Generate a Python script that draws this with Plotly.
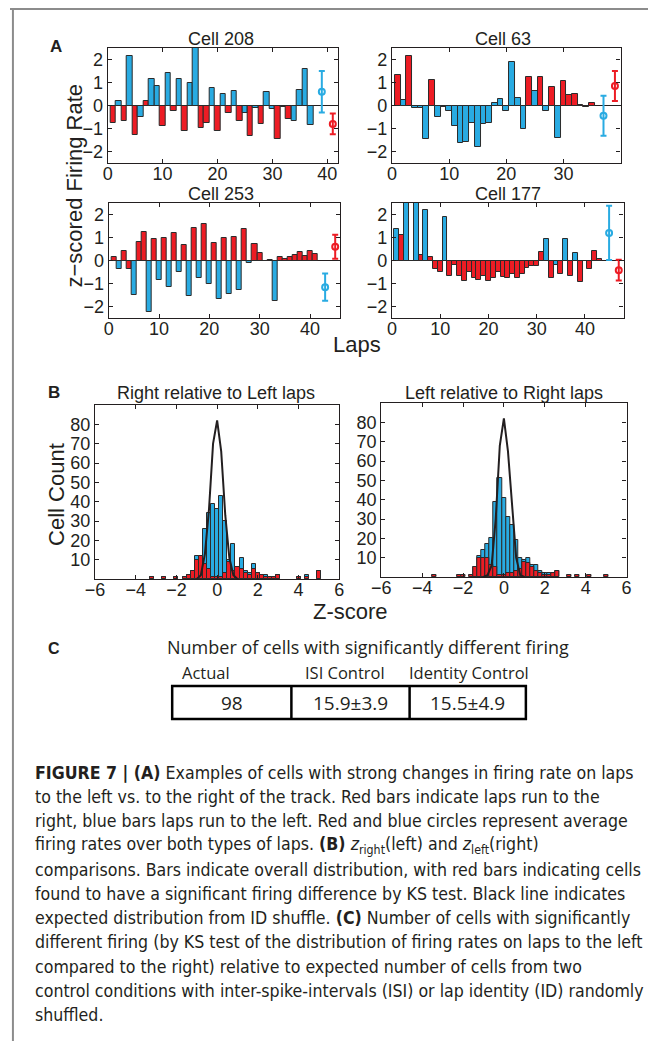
import plotly.graph_objects as go

W, H = 653, 1041

# ---------------- Panel A : z-scored firing rate per lap ----------------
# side: 'R' = lap run to the right (red), 'L' = lap run to the left (blue)
cell208_vals = [-0.75, 0.2, -0.68, 2.15, -1.3, -0.48, 0.2, 1.15, 0.83, -0.88,
                1.43, -0.25, 1.15, -1.1, 0.98, 2.6, -0.97, -0.77, 0.75, -1.1,
                0.48, -0.33, 0.65, -0.67, -0.33, -1.32, -0.1, -0.82, 0.6, -0.16,
                -1.44, -0.05, -0.59, -0.69, 0.69, 1.57, -0.85]
cell208_side = list("RLRLRLRLLRLRLRLLRRLRLRLRLRLRLLRLRLLLL")
cell208_avg = [0.6, -0.8]      # left, right
cell208_err = [0.9, 0.45]

cell63_vals = [1.31, 0.22, 2.16, -0.1, -0.1, -1.44, 1.13, -0.5, -0.05, -0.24,
               -0.88, -1.65, -1.57, -0.78, -1.82, -0.81, -0.75, 0.1, 0.29, -0.26,
               1.87, 0.34, -1.03, 1.25, 0.65, 1.22, -0.25, 0.8, -1.4, 1.05,
               0.47, 0.49, 0.02, -0.07, 0.12]
cell63_side = list("RLRLLLRLLLLLLLLLLLLLLLLRLRLRLRRRRRR")
cell63_avg = [-0.45, 0.85]
cell63_err = [0.87, 0.65]

cell253_vals = [0.14, -0.36, 0.4, -0.38, -1.52, 0.8, 1.23, -2.26, 0.94, -0.86,
                0.97, -1.17, 1.2, -0.48, 0.67, -1.55, 1.4, -0.77, 1.59, -1.03,
                0.75, -1.68, 0.97, -1.45, 1.01, -1.28, 1.36, -0.1, 0.71, 0.32,
                -0.04, 0.01, -1.78, 0.16, 0.06, 0.14, 0.25, 0.35, 0.19, 0.42, 0.28]
cell253_side = list("RLRRLRRLRLRLRLRLRLRLRLRLRLRLRRRRLRRRRRRRR")
cell253_avg = [-1.16, 0.6]
cell253_err = [0.59, 0.52]

cell177_vals = [1.37, 1.13, 3.0, -0.03, 3.0, 0.22, 2.2, 0.15, -0.35, -0.49,
                1.9, -0.69, -0.21, -0.66, -0.87, -0.49, -0.75, -0.84, -0.66, -0.87,
                -0.75, -0.51, -0.72, -0.74, -0.57, -0.76, -0.6, -0.31, -0.22, -0.24,
                0.35, 0.93, -0.75, -0.2, -0.6, 0.93, -0.66, 0.31, -0.94, -0.03,
                -0.35, 0.41, 0.05]
cell177_side = list("LRLRLRLRRRLRRRRRRRRRRRRRRRRRRRRLRLRLRLRLRRR")
cell177_avg = [1.2, -0.42]
cell177_err = [1.18, 0.45]

# ---------------- Panel B : histograms of z-scores ----------------
hl_centers = [-3.2, -2.6, -2.0, -1.6, -1.4, -1.2, -1.0, -0.8, -0.6, -0.4, -0.2, 0.0,
              0.2, 0.4, 0.6, 0.8, 1.0, 1.2, 1.4, 1.6, 1.8, 2.0, 2.2, 2.4, 2.6, 2.8,
              3.0, 4.0, 4.4, 5.0]
hl_total = [1, 1, 1, 1, 2, 4, 12, 12, 26, 34, 39, 36, 43, 30, 10, 18, 6, 11, 4, 3,
            8, 3, 2, 2, 1, 1, 2, 1, 2, 4]
hl_sig = [1, 1, 1, 1, 2, 4, 10, 12, 8, 5, 1, 1, 1, 3, 9, 4, 6, 5, 3, 2,
          5, 3, 2, 1, 1, 1, 2, 1, 1, 4]

hr_centers = [-3.4, -2.2, -2.0, -1.6, -1.4, -1.2, -1.0, -0.8, -0.6, -0.4, -0.2, 0.0,
              0.2, 0.4, 0.6, 0.8, 1.0, 1.2, 1.4, 1.6, 1.8, 2.0, 2.2, 2.4, 2.6,
              3.2, 3.6, 4.2, 5.0]
hr_total = [1, 1, 1, 1, 5, 11, 14, 17, 20, 39, 51, 41, 31, 27, 19, 10, 9, 10, 6, 6,
            3, 2, 2, 2, 3, 1, 1, 1, 1]
hr_sig = [1, 1, 1, 1, 5, 10, 10, 10, 6, 5, 1, 1, 2, 2, 3, 4, 8, 7, 5, 3,
          2, 1, 1, 2, 3, 1, 1, 1, 1]

# expected distribution from ID shuffle
shuf_x = [-1.0, -0.8, -0.6, -0.4, -0.2, 0.0, 0.2, 0.4, 0.6, 0.8, 1.0]
shuf_left = [0, 2, 13, 36, 70, 82, 66, 33, 11, 2, 0]
shuf_right = [0, 1, 6, 30, 68, 82, 65, 38, 10, 1, 0]

# ---------------- Panel C : table ----------------
table_headers = ["Actual", "ISI Control", "Identity Control"]
table_values = ["98", "15.9±3.9", "15.5±4.9"]

caption_lines = [
    "<b>FIGURE 7 | (A)</b> Examples of cells with strong changes in firing rate on laps",
    "to the left vs. to the right of the track. Red bars indicate laps run to the",
    "right, blue bars laps run to the left. Red and blue circles represent average",
    "firing rates over both types of laps. <b>(B)</b> <i>z</i><sub>right</sub>(left) and <i>z</i><sub>left</sub>(right)",
    "comparisons. Bars indicate overall distribution, with red bars indicating cells",
    "found to have a significant firing difference by KS test. Black line indicates",
    "expected distribution from ID shuffle. <b>(C)</b> Number of cells with significantly",
    "different firing (by KS test of the distribution of firing rates on laps to the left",
    "compared to the right) relative to expected number of cells from two",
    "control conditions with inter-spike-intervals (ISI) or lap identity (ID) randomly",
    "shuffled.",
]

BLUE = '#29abe2'
RED = '#ed1c24'
EDGE = '#2b2b2b'
INK = '#231f20'
FONT = 'Liberation Sans, Arial, sans-serif'
CAPFONT = 'Liberation Sans Narrow, Arial Narrow, DejaVu Sans Condensed, sans-serif'
TABFONT = 'Open Sans, Noto Sans, sans-serif'


def px(x):
    return x / W


def py(y):
    return 1 - y / H


def minus(v):
    return str(v).replace('-', '\u2212')


fig = go.Figure()
layout_axes = {}

cells = [
    ("Cell 208", cell208_vals, cell208_side, cell208_avg, cell208_err, 42, [0, 10, 20, 30, 40], (100, 336, 48, 163), 216),
    ("Cell 63", cell63_vals, cell63_side, cell63_avg, cell63_err, 40, [0, 10, 20, 30], (391, 625, 48, 163), 505),
    ("Cell 253", cell253_vals, cell253_side, cell253_avg, cell253_err, 46, [0, 10, 20, 30, 40], (101, 338, 203, 318), 216),
    ("Cell 177", cell177_vals, cell177_side, cell177_avg, cell177_err, 48, [0, 10, 20, 30, 40], (391, 628, 203, 318), 510),
]

axis_common = dict(ticks='inside', ticklen=4, tickcolor=INK,
                   showline=True, mirror='ticks', linecolor=INK, linewidth=1.3,
                   showgrid=False, tickfont=dict(size=18, color=INK, family=FONT))

annotations = []
for i, (title, vals, side, avg, err, xmax, xt, box, tx) in enumerate(cells):
    k = '' if i == 0 else str(i + 1)
    n = len(vals)
    laps = list(range(1, n + 1))
    fig.add_trace(go.Bar(
        x=laps, y=vals, width=1,
        marker=dict(color=[RED if s == 'R' else BLUE for s in side],
                    line=dict(color=EDGE, width=1)),
        xaxis='x' + k, yaxis='y' + k, showlegend=False))
    for j, col in enumerate([BLUE, RED]):
        fig.add_trace(go.Scatter(
            x=[n + 2 + 2 * j], y=[avg[j]], mode='markers',
            marker=dict(symbol='circle-open', size=6, color=col, line=dict(width=2, color=col)),
            error_y=dict(type='data', array=[err[j]], color=col, thickness=2, width=3),
            xaxis='x' + k, yaxis='y' + k, showlegend=False))
    x0, x1, y0, y1 = box
    layout_axes['xaxis' + k] = dict(
        domain=[px(x0), px(x1)], anchor='y' + k, range=[0, xmax],
        tickvals=xt, zeroline=False, ticklabelstandoff=-6, **axis_common)
    layout_axes['yaxis' + k] = dict(
        domain=[py(y1), py(y0)], anchor='x' + k, range=[-2.5, 2.5],
        tickvals=[-2, -1, 0, 1, 2], ticktext=[minus(v) for v in [-2, -1, 0, 1, 2]],
        zeroline=True, zerolinecolor=INK, zerolinewidth=1, **axis_common)
    annotations.append(dict(x=px(tx), y=py(y0 - 9), text=title, showarrow=False,
                            xref='paper', yref='paper', xanchor='center', yanchor='middle',
                            font=dict(size=18, color=INK, family=FONT)))

hists = [
    ("Right relative to Left laps", hl_centers, hl_total, hl_sig, shuf_left, (87, 337, 405, 579), 211),
    ("Left relative to Right laps", hr_centers, hr_total, hr_sig, shuf_right, (380, 631, 403, 577), 506),
]
for i, (title, cen, tot, sig, shuf, box, tx) in enumerate(hists):
    k = str(i + 5)
    fig.add_trace(go.Bar(x=cen, y=tot, width=0.2,
                         marker=dict(color=BLUE, line=dict(color=EDGE, width=1)),
                         xaxis='x' + k, yaxis='y' + k, showlegend=False))
    fig.add_trace(go.Bar(x=cen, y=sig, width=0.2,
                         marker=dict(color=RED, line=dict(color=EDGE, width=1)),
                         xaxis='x' + k, yaxis='y' + k, showlegend=False))
    fig.add_trace(go.Scatter(x=shuf_x, y=shuf, mode='lines',
                             line=dict(color=INK, width=2),
                             xaxis='x' + k, yaxis='y' + k, showlegend=False))
    x0, x1, y0, y1 = box
    layout_axes['xaxis' + k] = dict(
        domain=[px(x0), px(x1)], anchor='y' + k, range=[-6, 6],
        tickvals=[-6, -4, -2, 0, 2, 4, 6], ticktext=[minus(v) for v in [-6, -4, -2, 0, 2, 4, 6]],
        zeroline=False, ticklabelstandoff=-6, **axis_common)
    layout_axes['yaxis' + k] = dict(
        domain=[py(y1), py(y0)], anchor='x' + k, range=[0, 90],
        tickvals=[10, 20, 30, 40, 50, 60, 70, 80], zeroline=False, **axis_common)
    annotations.append(dict(x=px(tx), y=py(393), text=title, showarrow=False,
                            xref='paper', yref='paper', xanchor='center', yanchor='middle',
                            font=dict(size=18, color=INK, family=FONT)))


def label(x, y, text, size, family=FONT, angle=0, anchor='center'):
    annotations.append(dict(x=px(x), y=py(y), text=text, showarrow=False, textangle=angle,
                            xref='paper', yref='paper', xanchor=anchor, yanchor='middle',
                            font=dict(size=size, color=INK, family=family)))


label(47, 46, "<b>A</b>", 17)
label(65, 186, "z\u2212scored Firing Rate", 22, angle=-90)
label(355, 344, "Laps", 22)
label(45, 393, "<b>B</b>", 17)
label(48, 494, "Cell Count", 22, angle=-90)
label(348, 611, "Z-score", 22)
label(45, 648, "<b>C</b>", 16)

# table
label(366, 647, "Number of cells with significantly different firing", 18, family=TABFONT)
col_edges = [166, 288, 409, 528]
head_x = [201, 343, 470]
for j in range(3):
    label(head_x[j], 672, table_headers[j], 16.5, family=TABFONT)
    label((col_edges[j] + col_edges[j + 1]) / 2, 703, table_values[j], 19, family=TABFONT)

# caption
for li, line in enumerate(caption_lines):
    label(24, 773 + 24.2 * li, line, 17.6, family=CAPFONT, anchor='left')

shapes = [
    dict(type='line', xref='paper', yref='paper', x0=0, x1=1, y0=py(9), y1=py(9),
         line=dict(color='#8c8c8c', width=2)),
    dict(type='line', xref='paper', yref='paper', x0=px(3), x1=px(3), y0=py(9), y1=0,
         line=dict(color='#8c8c8c', width=2)),
    dict(type='rect', xref='paper', yref='paper', x0=px(col_edges[0]), x1=px(col_edges[3]),
         y0=py(719), y1=py(686), line=dict(color='black', width=2.5)),
]
for e in col_edges[1:3]:
    shapes.append(dict(type='line', xref='paper', yref='paper', x0=px(e), x1=px(e),
                       y0=py(719), y1=py(686), line=dict(color='black', width=2.5)))

fig.update_layout(
    width=W, height=H, margin=dict(l=0, r=0, t=0, b=0),
    paper_bgcolor='white', plot_bgcolor='white',
    barmode='overlay', bargap=0,
    font=dict(family=FONT, color=INK),
    annotations=annotations, shapes=shapes,
    **layout_axes)

fig.write_html("out.html", config={'displayModeBar': False},
               post_script="document.body.style.margin='0px';document.body.style.overflow='hidden';")
